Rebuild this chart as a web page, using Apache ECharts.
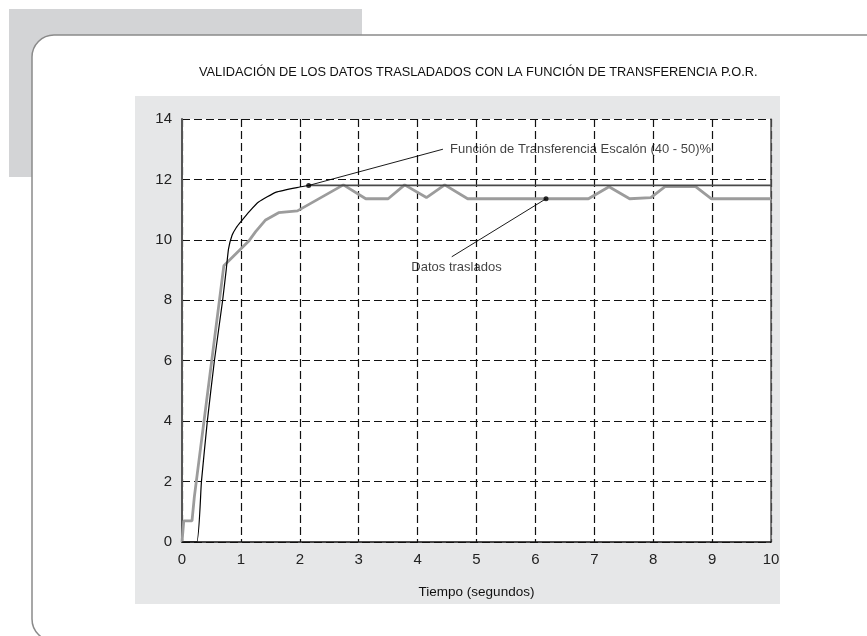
<!DOCTYPE html>
<html>
<head>
<meta charset="utf-8">
<script src="https://cdn.jsdelivr.net/npm/echarts@6/dist/echarts.min.js"></script>
<style>
  html, body { margin: 0; padding: 0; background: #fff; }
  #chart { width: 867px; height: 636px; }
</style>
</head>
<body>
<div id="chart"></div>
<script>
// Función de transferencia (escalón 40-50 %)
const tfTime = [0, 0.25, 0.33, 0.43, 0.55, 0.69, 0.75, 0.79, 0.85, 0.92, 1.0, 1.15, 1.3, 1.6, 2.0, 2.15]
const tfValue = [0, 0, 2, 4, 6, 8, 9, 9.7, 10.15, 10.4, 10.6, 10.95, 11.25, 11.58, 11.75, 11.8]

// valor estacionario de la función
const steadyTime = [2.15, 10]
const steadyValue = [11.8, 11.8]

// Datos trasladados
const dataTime = [0, 0.03, 0.17, 0.21, 0.71, 1.13, 1.25, 1.42, 1.64, 1.96, 2.74, 3.12, 3.5, 3.78, 4.15, 4.46, 4.85, 6.9, 7.25, 7.6, 7.96, 8.2, 8.72, 8.99, 10]
const dataValue = [0, 0.7, 0.7, 1.5, 9.14, 9.95, 10.27, 10.66, 10.9, 10.96, 11.82, 11.36, 11.36, 11.82, 11.4, 11.82, 11.36, 11.36, 11.76, 11.36, 11.4, 11.76, 11.76, 11.36, 11.36]

// anotaciones: punto marcado, fin de la línea guía, posición del texto
const tfNote = { text: 'Función de Transferencia Escalón (40 - 50)%', point: [2.15, 11.8], lineEnd: [4.43, 13.0], label: [4.55, 13.0] }
const dataNote = { text: 'Datos traslados', point: [6.18, 11.36], lineEnd: [4.58, 9.44], label: [4.66, 9.1] }

const titleText = 'VALIDACIÓN DE LOS DATOS TRASLADADOS CON LA FUNCIÓN DE TRANSFERENCIA P.O.R.'
const xName = 'Tiempo (segundos)'

const font = "'Liberation Sans', Arial, Helvetica, sans-serif"

function pairs(xs, ys) {
  return xs.map((x, i) => [x, ys[i]])
}

const chart = echarts.init(document.getElementById('chart'))

const dashed = { color: '#111', width: 1.2, type: [8, 4] }

const option = {
  animation: false,
  backgroundColor: '#fff',
  textStyle: { fontFamily: font },
  title: {
    text: titleText,
    left: 194,
    top: 61,
    textStyle: { fontSize: 12.8, fontWeight: 'normal', color: '#111', fontFamily: font }
  },
  graphic: [
    { type: 'rect', z: -30, silent: true, shape: { x: 9, y: 9, width: 353, height: 168 }, style: { fill: '#d3d4d6' } },
    { type: 'rect', z: -20, silent: true, shape: { x: 32, y: 35, width: 900, height: 606, r: 22 }, style: { fill: '#fff', stroke: '#8a8a8a', lineWidth: 1.5 } },
    { type: 'rect', z: -10, silent: true, shape: { x: 135, y: 96, width: 645, height: 508 }, style: { fill: '#e6e7e8' } }
  ],
  grid: {
    left: 182,
    right: 96,
    top: 119,
    bottom: 94,
    show: true,
    backgroundColor: '#fff',
    borderWidth: 0
  },
  xAxis: {
    type: 'value',
    min: 0,
    max: 10,
    interval: 1,
    name: xName,
    nameLocation: 'middle',
    nameGap: 43,
    nameTextStyle: { fontSize: 13.5, color: '#111' },
    axisLine: { show: true, onZero: false, lineStyle: { color: '#111', width: 1.5 } },
    axisTick: { show: false },
    axisLabel: { fontSize: 15, color: '#222', margin: 10 },
    splitLine: { show: true, lineStyle: dashed }
  },
  yAxis: [
    {
      type: 'value',
      min: 0,
      max: 14,
      interval: 2,
      axisLine: { show: true, lineStyle: { color: '#555', width: 2 } },
      axisTick: { show: false },
      axisLabel: { fontSize: 15, color: '#222', margin: 10 },
      splitLine: { show: true, lineStyle: dashed }
    },
    {
      type: 'value',
      position: 'right',
      min: 0,
      max: 14,
      interval: 2,
      axisLine: { show: true, lineStyle: { color: '#555', width: 1.5 } },
      axisTick: { show: false },
      axisLabel: { show: false },
      splitLine: { show: false }
    }
  ],
  series: [
    {
      type: 'line',
      data: pairs(dataTime, dataValue),
      showSymbol: false,
      lineStyle: { color: '#9c9c9c', width: 2.8 },
      z: 2
    },
    {
      type: 'line',
      data: pairs(steadyTime, steadyValue),
      showSymbol: false,
      lineStyle: { color: '#4a4a4a', width: 1.8 },
      z: 3
    },
    {
      type: 'line',
      data: pairs(tfTime, tfValue),
      showSymbol: false,
      smooth: 0.15,
      lineStyle: { color: '#000', width: 1.2 },
      z: 4
    },
    {
      type: 'line',
      data: [tfNote.point, tfNote.lineEnd],
      showSymbol: false,
      lineStyle: { color: '#000', width: 0.9 },
      z: 5
    },
    {
      type: 'line',
      data: [dataNote.point, dataNote.lineEnd],
      showSymbol: false,
      lineStyle: { color: '#000', width: 0.9 },
      z: 5
    },
    {
      type: 'scatter',
      data: [tfNote.point, dataNote.point],
      symbolSize: 5,
      itemStyle: { color: '#000' },
      z: 6
    },
    {
      type: 'scatter',
      symbolSize: 0,
      data: [
        { value: tfNote.label, label: { show: true, position: 'right', distance: 0, formatter: tfNote.text } },
        { value: dataNote.label, label: { show: true, position: 'inside', formatter: dataNote.text } }
      ],
      label: { fontSize: 13, color: '#111', fontFamily: font },
      z: 7
    }
  ]
}

chart.setOption(option)
</script>
</body>
</html>
